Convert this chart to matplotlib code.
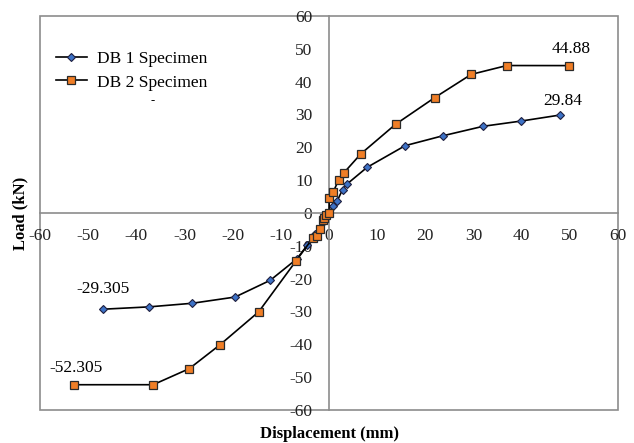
import matplotlib
matplotlib.use("Agg")
import matplotlib.pyplot as plt
from matplotlib.patches import Rectangle

# Load-displacement envelopes
DB1_X = [-46.9, -37.4, -28.4, -19.5, -12.2, -6.7, -4.5, -3.0, -1.2, 0.0,
         0.8, 1.7, 2.8, 3.8, 7.9, 15.8, 23.6, 32.0, 39.9, 48.0]
DB1_Y = [-29.305, -28.6, -27.5, -25.6, -20.5, -14.0, -9.8, -6.5, -2.8, 0.0,
         2.2, 3.7, 7.1, 8.9, 13.9, 20.5, 23.5, 26.4, 28.0, 29.84]

DB2_X = [-52.9, -36.5, -29.0, -22.6, -14.6, -6.8, -3.4, -2.6, -1.9, -1.2, -1.0,
         -0.6, 0.0, 0.05, 0.9, 2.0, 3.0, 6.6, 13.8, 21.9, 29.5, 36.9, 49.7]
DB2_Y = [-52.305, -52.3, -47.4, -40.1, -30.1, -14.5, -7.7, -6.9, -5.0, -2.0, -1.6,
         -0.6, 0.0, 4.5, 6.5, 10.1, 12.1, 18.0, 27.0, 35.1, 42.2, 44.9, 44.88]

TICKS = list(range(-60, 61, 10))

plt.rcParams["font.family"] = ["Liberation Serif", "DejaVu Serif"]
plt.rcParams["axes.unicode_minus"] = False

fig = plt.figure(figsize=(6.34, 4.43), dpi=100)
ax = fig.add_axes([0.063, 0.0745, 0.912, 0.8895])

GRAY = "#8c8c8c"

ax.plot(DB1_X, DB1_Y, color="black", linewidth=1.2, marker="D", markersize=4.3,
        markerfacecolor="#3d72c6", markeredgecolor="#1f1f3f", markeredgewidth=0.8,
        label="DB 1 Specimen", zorder=3)
ax.plot(DB2_X, DB2_Y, color="black", linewidth=1.2, marker="s", markersize=6.2,
        markerfacecolor="#f07e26", markeredgecolor="#2a2a2a", markeredgewidth=0.9,
        label="DB 2 Specimen", zorder=4)

ax.set_xlim(-60, 60)
ax.set_ylim(-60, 60)

# axes crossing at the origin, plus an outer frame
for side in ("top", "right"):
    ax.spines[side].set_visible(False)
for side in ("left", "bottom"):
    ax.spines[side].set_position(("data", 0))
    ax.spines[side].set_color(GRAY)
    ax.spines[side].set_linewidth(1.2)
ax.add_patch(Rectangle((0, 0), 1, 1, transform=ax.transAxes, fill=False,
                       edgecolor=GRAY, linewidth=1.2, zorder=1, clip_on=False))

ax.set_xticks(TICKS)
ax.set_yticks(TICKS)
ax.tick_params(axis="both", length=0, labelsize=12.5, colors="#222222")
ax.tick_params(axis="x", pad=11)
ax.tick_params(axis="y", pad=12)

# point labels
ax.annotate("29.84", xy=(DB1_X[-1], DB1_Y[-1]), xytext=(2, 4.5),
            textcoords="offset points", ha="center", va="bottom", fontsize=12.5)
ax.annotate("44.88", xy=(DB2_X[-1], DB2_Y[-1]), xytext=(2, 6),
            textcoords="offset points", ha="center", va="bottom", fontsize=12.5)
ax.annotate("-29.305", xy=(DB1_X[0], DB1_Y[0]), xytext=(0, 9),
            textcoords="offset points", ha="center", va="bottom", fontsize=12.5)
ax.annotate("-52.305", xy=(DB2_X[0], DB2_Y[0]), xytext=(1, 6),
            textcoords="offset points", ha="center", va="bottom", fontsize=12.5)

ax.set_xlabel("Displacement (mm)", fontsize=12, fontweight="bold")
ax.xaxis.set_label_coords(0.5, -0.04)
ax.set_ylabel("Load (kN)", fontsize=12, fontweight="bold")
ax.yaxis.set_label_coords(-0.02, 0.5)

ax.legend(loc="upper left", bbox_to_anchor=(0.0, 0.95), frameon=False,
          fontsize=12.5, handlelength=1.8, handletextpad=0.6, labelspacing=0.4)
ax.text(0.195, 0.785, "-", transform=ax.transAxes, fontsize=9,
        ha="center", va="center")

fig.savefig("out.png", dpi=100)
